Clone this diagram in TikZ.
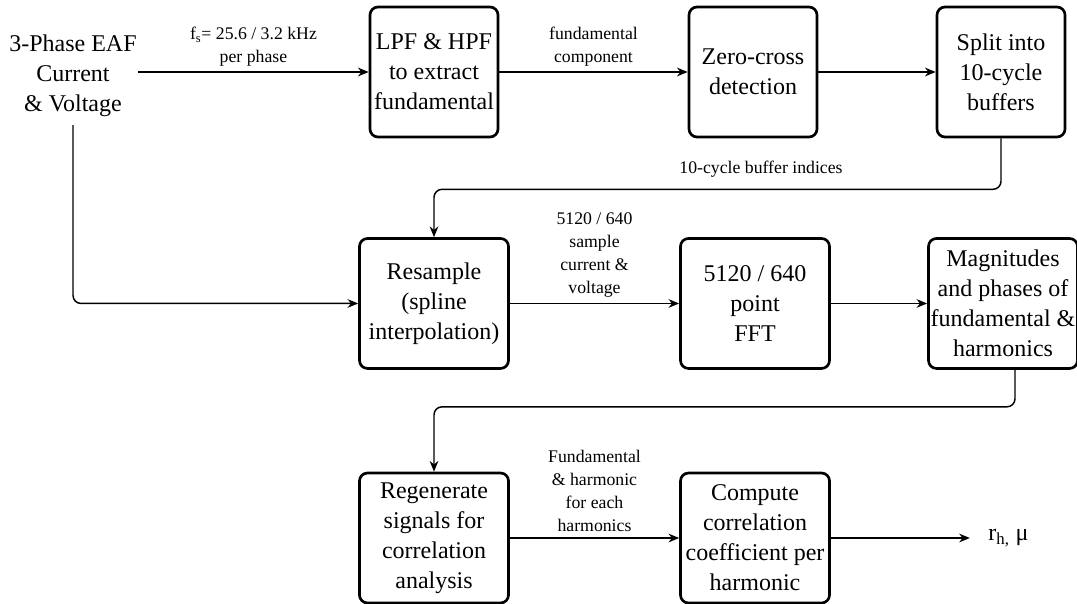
\documentclass[tikz,border=0pt]{standalone}
\usepackage{fontspec}
\setmainfont{Liberation Serif}
\usetikzlibrary{positioning,arrows.meta}

\tikzset{
    block/.style={draw, line width=2pt, rounded corners=6pt, align=center, inner sep=1pt,
        minimum height=97.5pt, font=\fontsize{18}{22.5}\selectfont},
    narrowblock/.style={block, minimum width=96pt},
    wideblock/.style={block, minimum width=111.75pt},
    plaintext/.style={align=center, inner sep=1pt, font=\fontsize{18}{22.5}\selectfont},
    lbl/.style={align=center, inner sep=1pt, font=\fontsize{13.3}{17.25}\selectfont},
    flow/.style={line width=1.1pt, -{Stealth[length=8pt,width=6.5pt]}},
}

\begin{document}
\begin{tikzpicture}[x=0.75pt,y=-0.75pt]
    \useasboundingbox (0,0) rectangle (1077,603);

    \node[plaintext] (src) at (73,76) {3-Phase EAF\\Current\\\& Voltage};
    \node[narrowblock] (lpf) at (434,72) {LPF \& HPF\\to extract\\fundamental};
    \node[narrowblock, right=141.25pt of lpf] (zero) {Zero-cross\\detection};
    \node[narrowblock, right=88pt of zero] (split) {Split into\\10-cycle\\buffers};

    \node[wideblock, below=74.1pt of lpf] (resample) {Resample\\(spline\\interpolation)};
    \node[wideblock, right=127pt of resample] (fft) {5120 / 640\\point\\FFT};
    \node[wideblock, right=72.25pt of fft] (mag) {Magnitudes\\and phases of\\fundamental \&\\harmonics};

    \node[wideblock, below=76.4pt of resample] (regen) {Regenerate\\signals for\\correlation\\analysis};
    \node[wideblock, right=127pt of regen] (comp) {Compute\\correlation\\coefficient per\\harmonic};
    \node[plaintext, right=117pt of comp] (out) {r\textsubscript{h,} μ};

    \draw[flow] (src.east |- lpf) -- node[lbl, above=3pt] {f\textsubscript{s}= 25.6 / 3.2 kHz\\per phase} (lpf);
    \draw[flow] (lpf) -- node[lbl, above=3pt] {fundamental\\component} (zero);
    \draw[flow] (zero) -- (split);
    \draw[flow, rounded corners=6pt] (split.south) -- ++(0,51) coordinate (bend1) -| (resample.north);
    \node[lbl] (idx) at ([shift={(-240,-20)}]bend1) {10-cycle buffer indices};

    \draw[flow, rounded corners=6pt] ([yshift=-5pt]src.south) |- (resample.west);
    \draw[flow] (resample) -- node[lbl, above=3pt] {5120 / 640\\sample\\current \&\\voltage} (fft);
    \draw[flow] (fft) -- (mag);
    \draw[flow, rounded corners=6pt] ([xshift=9pt]mag.south) -- ++(0,37) -| (regen.north);

    \draw[flow] (regen) -- node[lbl, above=3pt] {Fundamental\\\& harmonic\\for each\\harmonics} (comp);
    \draw[flow, shorten >=12.75pt] (comp) -- (out);
\end{tikzpicture}
\end{document}
